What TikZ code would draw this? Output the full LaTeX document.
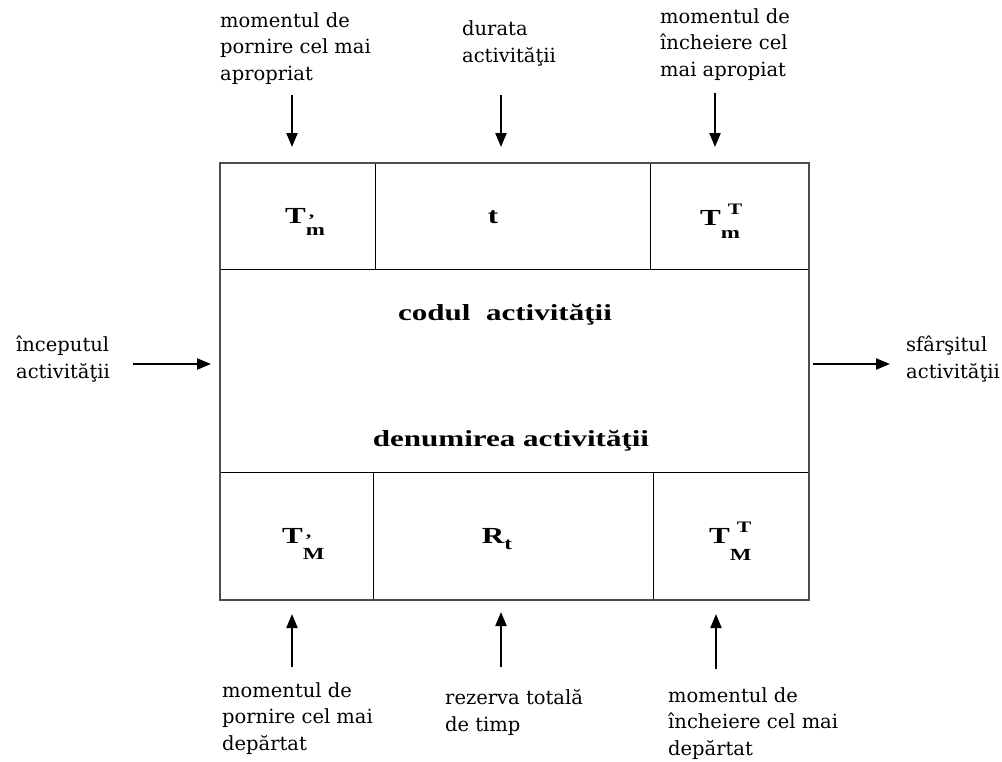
\documentclass[tikz,border=0pt]{standalone}
\usepackage{fontspec}
\usetikzlibrary{arrows.meta}
\newfontfamily\lblfont{DejaVu Serif}
\newfontfamily\cellfont{Liberation Serif}[FakeStretch=1.35]
% letter T with a superscript (kern, raise, text) and a subscript (lowering, text)
\newcommand{\symT}[5]{T\rlap{\kern#1\raisebox{#2}{\fontsize{16}{16}\selectfont #3}}\raisebox{-#4}{\fontsize{17}{17}\selectfont #5}}
\tikzset{
  lbl/.style={font=\lblfont\fontsize{19.5}{26.5}\selectfont, align=left, inner sep=0pt, anchor=base west},
  sym/.style={font=\cellfont\bfseries\fontsize{23}{26}\selectfont, inner sep=0pt},
  cell/.style={draw=black, line width=1.2pt, minimum width=#1, inner sep=0pt},
  flow/.style={line width=2.2pt, -{Triangle[length=14pt,width=11pt]}},
}
\begin{document}
\begin{tikzpicture}[x=1pt,y=-1pt]
\useasboundingbox (0,0) rectangle (1002,761);
% activity box: three rows of cells
\node[cell=156, minimum height=107, anchor=north west] (ctl) at (219,162) {};
\node[cell=275, minimum height=107, anchor=north west] (ctc) at (375,162) {};
\node[cell=158, minimum height=107, anchor=north west] (ctr) at (650,162) {};
\node[cell=589, minimum height=203, anchor=north west] (cmid) at (219,269) {};
\node[cell=154, minimum height=127, anchor=north west] (cbl) at (219,472) {};
\node[cell=280, minimum height=127, anchor=north west] (cbc) at (373,472) {};
\node[cell=155, minimum height=127, anchor=north west] (cbr) at (653,472) {};
\node[draw=black!70, line width=2pt, minimum width=589, minimum height=437, anchor=north west, inner sep=0pt] (box) at (219,162) {};

% cell contents
\node[sym, anchor=base west] (stl) at (285,223) {\symT{2pt}{-2pt}{’}{12pt}{m}};
\node[sym, anchor=base] (stc) at (493,223) {t};
\node[sym, anchor=base west] (str) at (700,225) {\symT{7pt}{11pt}{T}{13pt}{m}};
\node[sym, anchor=base] (code) at (505,320) {codul\ \ activităţii};
\node[sym, anchor=base] (name) at (511,446) {denumirea activităţii};
\node[sym, anchor=base west] (sbl) at (282,543) {\symT{2pt}{-2pt}{’}{16pt}{M}};
\node[sym, anchor=base] (sbc) at (497,543) {R\raisebox{-6pt}{\fontsize{17}{17}\selectfont t}};
\node[sym, anchor=base west] (sbr) at (709,543) {\symT{7pt}{11pt}{T}{17pt}{M}};

% labels (anchored at the baseline of their last line)
\node[lbl] (ltl) at (220,80) {momentul de\\pornire cel mai\\apropriat};
\node[lbl] (ltc) at (462,62) {durata\\activităţii};
\node[lbl] (ltr) at (660,76) {momentul de\\încheiere cel\\mai apropiat};
\node[lbl] (lbl) at (222,750) {momentul de\\pornire cel mai\\depărtat};
\node[lbl] (lbc) at (445,731) {rezerva totală\\de timp};
\node[lbl] (lbr) at (668,755) {momentul de\\încheiere cel mai\\depărtat};
\node[lbl] (lin) at (16,378) {începutul\\activităţii};
\node[lbl] (lout) at (906,378) {sfârşitul\\activităţii};

% arrow end points
\coordinate (a1s) at (292,95);  \coordinate (a1e) at (292,147);
\coordinate (a2s) at (501,95);  \coordinate (a2e) at (501,147);
\coordinate (a3s) at (715,93);  \coordinate (a3e) at (715,147);
\coordinate (b1s) at (292,667); \coordinate (b1e) at (292,614);
\coordinate (b2s) at (501,667); \coordinate (b2e) at (501,612);
\coordinate (b3s) at (716,669); \coordinate (b3e) at (716,614);
\coordinate (ins) at (133,364); \coordinate (ine) at (211,364);
\coordinate (outs) at (813,364); \coordinate (oute) at (890,364);

\draw[flow] (a1s) -- (a1e);
\draw[flow] (a2s) -- (a2e);
\draw[flow] (a3s) -- (a3e);
\draw[flow] (b1s) -- (b1e);
\draw[flow] (b2s) -- (b2e);
\draw[flow] (b3s) -- (b3e);
\draw[flow] (ins) -- (ine);
\draw[flow] (outs) -- (oute);
\end{tikzpicture}
\end{document}
